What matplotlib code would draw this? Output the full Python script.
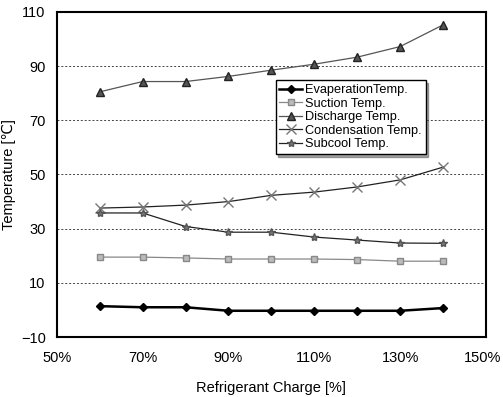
import matplotlib
matplotlib.use("Agg")
import matplotlib.pyplot as plt
import matplotlib.transforms as mtransforms

charge = [60, 70, 80, 90, 100, 110, 120, 130, 140]
evap = [1.4, 1.0, 1.0, -0.3, -0.3, -0.3, -0.3, -0.3, 0.7]
suction = [19.5, 19.5, 19.2, 18.8, 18.8, 18.8, 18.6, 18.0, 18.0]
discharge = [80.5, 84.3, 84.3, 86.2, 88.5, 90.7, 93.3, 97.2, 105.2]
condensation = [37.6, 38.0, 38.7, 40.0, 42.3, 43.5, 45.4, 48.0, 52.7]
subcool = [35.8, 35.8, 30.8, 28.7, 28.7, 26.9, 25.8, 24.7, 24.6]
labels = ["EvaperationTemp.", "Suction Temp.", "Discharge Temp.", "Condensation Temp.", "Subcool Temp."]
xticks = [50, 70, 90, 110, 130, 150]
yticks = [-10, 10, 30, 50, 70, 90, 110]

plt.rcParams['font.family'] = ['Liberation Sans', 'DejaVu Sans']

fig = plt.figure(figsize=(5.03, 3.97), dpi=100)
ax = fig.add_axes([0.113, 0.151, 0.853, 0.819])

ax.plot(charge, evap, color='black', lw=1.8, marker='D', ms=4.5, label=labels[0])
ax.plot(charge, suction, color='#888888', lw=0.9, marker='s', ms=4.5, mfc='#bbbbbb', mec='#888888', label=labels[1])
ax.plot(charge, discharge, color='#555555', lw=0.9, marker='^', ms=5.5, mfc='#555555', mec='#222222', label=labels[2])
ax.plot(charge, condensation, color='#222222', lw=0.9, marker='x', ms=7, mec='#777777', label=labels[3])
ax.plot(charge, subcool, color='#222222', lw=0.9, marker='*', ms=6, mfc='#777777', mec='#555555', label=labels[4])

ax.set_xlim(50, 150)
ax.set_ylim(-10, 110)
ax.set_xticks(xticks)
ax.set_xticklabels([f"{v}%" for v in xticks])
ax.set_yticks(yticks)
ax.tick_params(axis='both', length=0, labelsize=10.5)
ax.tick_params(axis='x', pad=10)
ax.tick_params(axis='y', pad=8)
ax.yaxis.grid(True, linestyle=(0, (2, 2)), color='#444444', lw=0.7)
for s in ax.spines.values():
    s.set_linewidth(1.5)

last = ax.get_xticklabels()[-1]
last.set_transform(last.get_transform() + mtransforms.ScaledTranslation(-3 / 100, 0, fig.dpi_scale_trans))

ax.set_xlabel("Refrigerant Charge [%]", fontsize=10.5)
ax.xaxis.set_label_coords(0.5, -0.135)
ax.set_ylabel("Temperature [\u2103]", fontsize=10.5)
ax.yaxis.set_label_coords(-0.095, 0.5)

leg = ax.legend(loc='upper left', bbox_to_anchor=(0.51, 0.79), fontsize=9.2,
                frameon=True, fancybox=False, shadow=True, handlelength=1.8,
                labelspacing=0.12, borderpad=0.3, handletextpad=0.2, borderaxespad=0)
leg.get_frame().set_edgecolor('black')
leg.get_frame().set_linewidth(1.0)

fig.savefig("out.png", dpi=100)
